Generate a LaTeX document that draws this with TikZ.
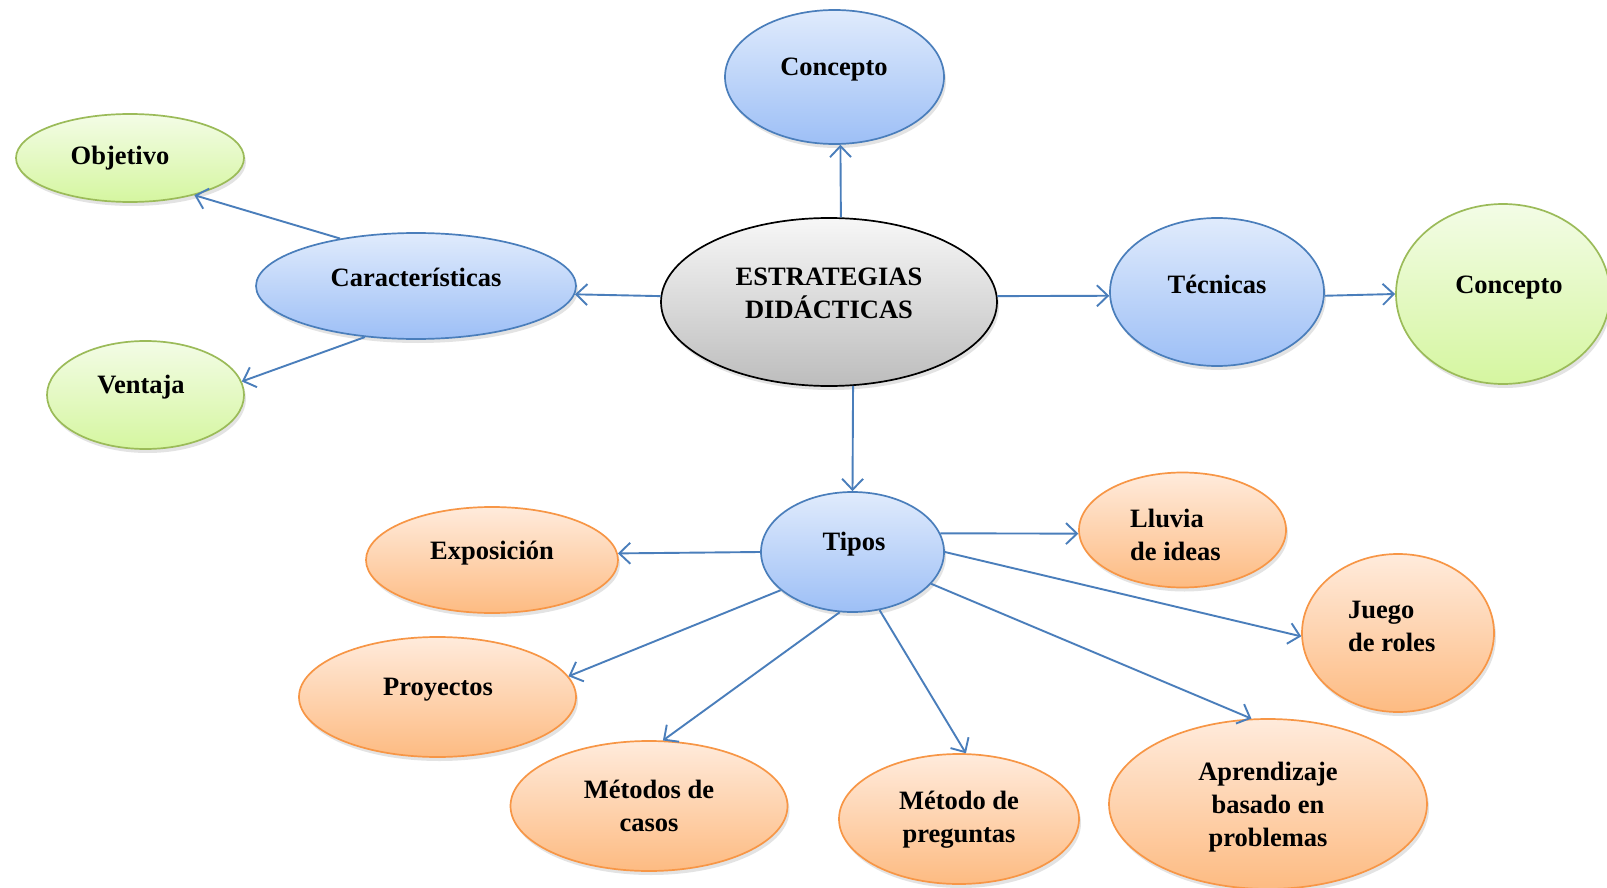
\documentclass[tikz,border=0pt]{standalone}
\usepackage{fontspec}
\setmainfont{Liberation Serif}
\usetikzlibrary{shapes.geometric,arrows.meta,shadows}
\definecolor{bluebd}{HTML}{4A7EBB}
\definecolor{bluetop}{HTML}{E0EBFC}
\definecolor{bluebot}{HTML}{9DBFF6}
\definecolor{greenbd}{HTML}{9BBB59}
\definecolor{greentop}{HTML}{F3FCE6}
\definecolor{greenbot}{HTML}{D5F6A0}
\definecolor{orangebd}{HTML}{F79646}
\definecolor{orangetop}{HTML}{FFEBDC}
\definecolor{orangebot}{HTML}{FDBB82}
\definecolor{greytop}{HTML}{F7F7F7}
\definecolor{greybot}{HTML}{BDBDBD}
\begin{document}
\begin{tikzpicture}[x=1pt,y=-1pt,
  base/.style={ellipse, inner sep=0pt, line width=1.7pt,
    drop shadow={opacity=0.22, shadow xshift=2pt, shadow yshift=-4pt}},
  bluebox/.style={base, draw=bluebd, top color=bluetop, bottom color=bluebot},
  greenbox/.style={base, draw=greenbd, top color=greentop, bottom color=greenbot},
  orangebox/.style={base, draw=orangebd, top color=orangetop, bottom color=orangebot},
  greybox/.style={base, draw=black, top color=greytop, bottom color=greybot},
  lbl/.style={font=\bfseries\fontsize{26.5}{33}\selectfont, align=center, inner sep=0pt},
  lbll/.style={font=\bfseries\fontsize{26.5}{33}\selectfont, align=left, inner sep=0pt, anchor=west},
  arr/.style={draw=bluebd, line width=1.9pt,
    -{Straight Barb[length=11pt,width=21pt,line width=1.9pt]}}
]
\fill[white] (0,0) rectangle (1607,888);
\useasboundingbox (0,0) rectangle (1607,888);

% ellipses
\node[greybox, minimum width=336pt, minimum height=168pt] (cen) at (829,302) {};
\node[bluebox, minimum width=219pt, minimum height=134pt] (conc) at (834.5,77) {};
\node[bluebox, minimum width=320pt, minimum height=106pt] (car) at (416,286) {};
\node[greenbox, minimum width=228pt, minimum height=88pt] (obj) at (130,158) {};
\node[greenbox, minimum width=197pt, minimum height=108pt] (ven) at (145.5,395) {};
\node[bluebox, minimum width=214pt, minimum height=148pt] (tec) at (1217,292) {};
\node[greenbox, minimum width=214pt, minimum height=180pt] (conc2) at (1503,294) {};
\node[bluebox, minimum width=183pt, minimum height=120pt] (tip) at (852.5,552) {};
\node[orangebox, minimum width=252pt, minimum height=106pt] (exp) at (492,560) {};
\node[orangebox, minimum width=277pt, minimum height=120pt] (proy) at (437.5,697) {};
\node[orangebox, minimum width=277pt, minimum height=130pt] (mc) at (649,806) {};
\node[orangebox, minimum width=240pt, minimum height=130pt] (mp) at (959,819) {};
\node[orangebox, minimum width=318pt, minimum height=170pt] (apr) at (1268,804) {};
\node[orangebox, minimum width=192pt, minimum height=158pt] (jr) at (1398,633) {};
\node[orangebox, minimum width=207pt, minimum height=115pt] (ll) at (1182.5,530) {};

% labels
\node[lbl] (cenT) at (829,293) {ESTRATEGIAS\\DIDÁCTICAS};
\node[lbl] (concT) at (834,70) {Concepto};
\node[lbl] (carT) at (416,277) {Características};
\node[lbl] (objT) at (120,158) {Objetivo};
\node[lbl] (venT) at (141,387) {Ventaja};
\node[lbl] (tecT) at (1217,284) {Técnicas};
\node[lbl] (conc2T) at (1509,288) {Concepto};
\node[lbl] (tipT) at (854,544) {Tipos};
\node[lbl] (expT) at (492,553) {Exposición};
\node[lbl] (proyT) at (438,690) {Proyectos};
\node[lbl] (mcT) at (649,806) {Métodos de\\casos};
\node[lbl] (mpT) at (959,820) {Método de\\preguntas};
\node[lbl] (aprT) at (1268,807) {Aprendizaje\\basado en\\problemas};
\node[lbll] (jrT) at (1348,626) {Juego\\de roles};
\node[lbll] (llT) at (1130,535) {Lluvia\\de ideas};

% connectors
\draw[arr] (cen.82) -- (conc.275);
\draw[arr] (cen.178) -- (car.357);
\draw[arr] (cen.2) -- (tec.182);
\draw[arr] (tec.358) -- (conc2.180);
\draw[arr] (cen.286) -- (tip.north);
\draw[arr] (car.148) -- (obj.330);
\draw[arr] (car.225) -- (ven.8);
\draw[arr] (tip.west) -- (exp.3);
\draw[arr] (tip.208) -- (proy.9);
\draw[arr] (tip.258) -- (mc.78);
\draw[arr] (tip.295) -- (mp.84);
\draw[arr] (tip.338) -- (apr.101);
\draw[arr] (tip.0) -- (jr.182);
\draw[arr] (tip.12) -- (ll.182);
\end{tikzpicture}
\end{document}
